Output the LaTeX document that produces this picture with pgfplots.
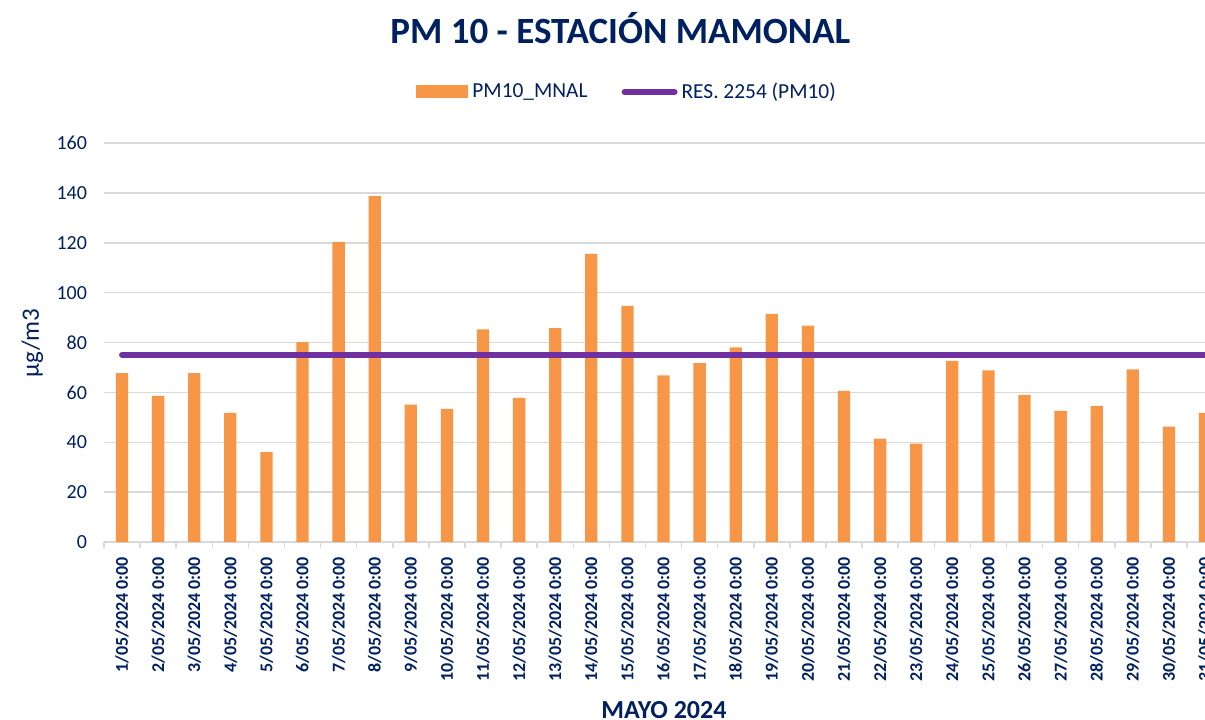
\documentclass[border=0pt]{standalone}
\usepackage{pgfplots}
\pgfplotsset{compat=1.18}
\usepackage{fontspec}
\setmainfont{Carlito}
\definecolor{barorange}{HTML}{F79646}
\definecolor{respurple}{HTML}{7030A0}
\definecolor{navy}{HTML}{002060}
\definecolor{gridgray}{HTML}{D9D9D9}
\begin{document}
\begin{tikzpicture}
\path[use as bounding box, clip] (0,0) rectangle (602.5pt,359.5pt);
\begin{axis}[
  at={(52pt,88.5pt)}, anchor=south west,
  scale only axis, width=550.5pt, height=199.5pt,
  xmin=0.5, xmax=31, ymin=0, ymax=160,
  ytick={0,20,...,160},
  xtick={1,...,31},
  xticklabels={1/05/2024 0:00,2/05/2024 0:00,3/05/2024 0:00,4/05/2024 0:00,5/05/2024 0:00,6/05/2024 0:00,7/05/2024 0:00,8/05/2024 0:00,9/05/2024 0:00,10/05/2024 0:00,11/05/2024 0:00,12/05/2024 0:00,13/05/2024 0:00,14/05/2024 0:00,15/05/2024 0:00,16/05/2024 0:00,17/05/2024 0:00,18/05/2024 0:00,19/05/2024 0:00,20/05/2024 0:00,21/05/2024 0:00,22/05/2024 0:00,23/05/2024 0:00,24/05/2024 0:00,25/05/2024 0:00,26/05/2024 0:00,27/05/2024 0:00,28/05/2024 0:00,29/05/2024 0:00,30/05/2024 0:00,31/05/2024 0:00},
  minor xtick={0.5,1.5,...,30.5},
  axis x line=bottom, axis y line=left,
  x axis line style={-, draw=gridgray, line width=0.75pt},
  y axis line style={draw=none},
  major tick length=0pt,
  minor tick length=3pt,
  xtick align=outside,
  minor tick style={draw=gridgray, line width=0.75pt},
  ymajorgrids, major grid style={draw=gridgray, line width=0.75pt},
  /pgf/number format/assume math mode=true,
  yticklabel style={font=\fontsize{10}{10}\selectfont, text=navy, xshift=-5pt},
  xticklabel style={rotate=90, anchor=east, font=\bfseries\fontsize{9}{9}\selectfont, text=navy, xshift=-4pt},
  xlabel={MAYO 2024},
  xlabel style={at={(axis description cs:0.5086,-0.421)}, anchor=center, font=\bfseries\fontsize{13}{13}\selectfont, text=navy},
  ylabel={µg/m3},
  ylabel style={at={(axis description cs:-0.0650,0.499)}, anchor=center, rotate=0, font=\fontsize{12.5}{12.5}\selectfont, text=navy},
  title={PM 10 - ESTACIÓN MAMONAL},
  title style={at={(axis description cs:0.469,1.258)}, anchor=center, font=\bfseries\fontsize{18.5}{18.5}\selectfont, text=navy},
  legend style={at={(axis description cs:0.476,1.128)}, anchor=center, draw=none, fill=none,
    legend columns=2, font=\fontsize{10.7}{10.7}\selectfont, text=navy,
    /tikz/every even column/.append style={column sep=15pt}},
  clip=true,
]
\addplot[ybar, bar width=6.15pt, fill=barorange, draw=none,
  legend image code/.code={\fill[barorange] (0pt,-3.25pt) rectangle (26pt,3.25pt);}]
  coordinates {(1,67.7) (2,58.6) (3,67.7) (4,51.8) (5,36.0) (6,80.2) (7,120.4) (8,138.7)
  (9,55.1) (10,53.4) (11,85.3) (12,57.8) (13,85.8) (14,115.5) (15,94.7) (16,66.8)
  (17,71.7) (18,78.0) (19,91.5) (20,86.8) (21,60.6) (22,41.5) (23,39.5) (24,72.6)
  (25,68.8) (26,59.0) (27,52.6) (28,54.6) (29,69.2) (30,46.3) (31,51.8)};
\addlegendentry{PM10\_MNAL}
\addplot[respurple, line width=3pt, line cap=round, mark=none,
  legend image code/.code={\draw[respurple, line width=3pt, line cap=round] (1.5pt,0) -- (26.5pt,0);}]
  coordinates {(1,75) (31.5,75)};
\addlegendentry{RES. 2254 (PM10)}
\end{axis}
\end{tikzpicture}
\end{document}
